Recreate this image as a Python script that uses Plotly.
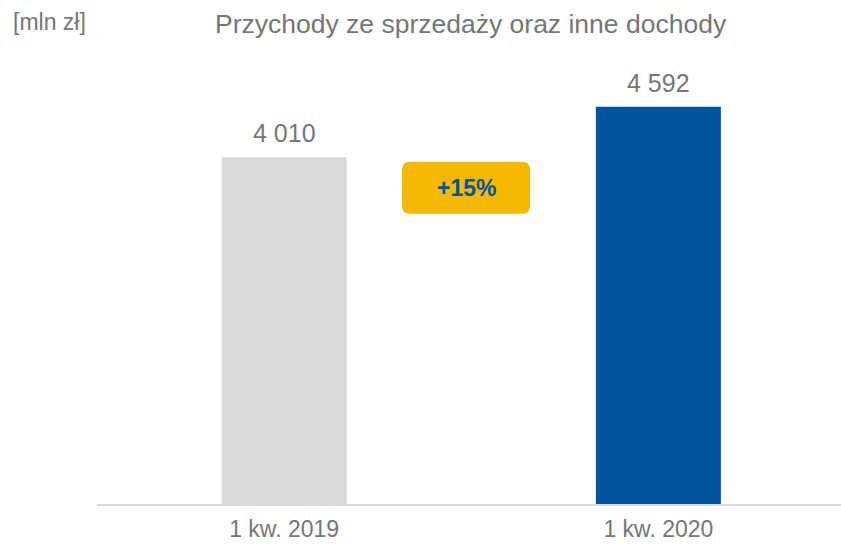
import plotly.graph_objects as go

categories = ["1 kw. 2019", "1 kw. 2020"]
values = [4010, 4592]
bar_colors = ["#D9D9D9", "#00539F"]
change_label = "+15%"
title_text = "Przychody ze sprzedaży oraz inne dochody"
unit_text = "[mln zł]"

FONT = "Arial, Liberation Sans, sans-serif"
TXT = "#767676"

fig = go.Figure()
fig.add_trace(go.Bar(
    x=categories, y=values, marker=dict(color=bar_colors, line=dict(width=0)),
    width=0.334, hoverinfo="skip",
))

for c, v in zip(categories, values):
    fig.add_annotation(x=c, y=v, xref="x", yref="y", text=f"{v:,}".replace(",", " "),
                       showarrow=False, yanchor="bottom", yshift=8,
                       font=dict(family=FONT, size=25, color=TXT))

# badge
r = 8; w = 64; h = 26
path = (f"M {-w+r},{-h} L {w-r},{-h} Q {w},{-h} {w},{-h+r} L {w},{h-r} Q {w},{h} {w-r},{h} "
        f"L {-w+r},{h} Q {-w},{h} {-w},{h-r} L {-w},{-h+r} Q {-w},{-h} {-w+r},{-h} Z")
fig.add_shape(type="path", xref="paper", yref="paper", xsizemode="pixel", ysizemode="pixel",
              xanchor=0.496, yanchor=0.712, path=path,
              fillcolor="#F5B800", line=dict(width=0), layer="above")
fig.add_annotation(xref="paper", yref="paper", x=0.496, y=0.712, text=f"<b>{change_label}</b>",
                   showarrow=False, xanchor="center", yanchor="middle",
                   font=dict(family=FONT, size=23, color="#00539F"))

fig.add_annotation(xref="paper", yref="paper", x=(471 - 97) / 744, y=(504 - 24) / 444,
                   text=title_text, showarrow=False, xanchor="center", yanchor="middle",
                   font=dict(family=FONT, size=26.5, color=TXT))
fig.add_annotation(xref="paper", yref="paper", x=(11 - 97) / 744, y=(504 - 22) / 444,
                   text=unit_text, showarrow=False, xanchor="left", yanchor="middle",
                   font=dict(family=FONT, size=23, color=TXT))

fig.update_layout(
    width=841, height=544,
    margin=dict(l=97, r=0, t=60, b=40),
    plot_bgcolor="white", paper_bgcolor="white",
    showlegend=False,
    xaxis=dict(range=[-0.5, 1.488], showline=True, linecolor="#D9D9D9", linewidth=2,
               showgrid=False, zeroline=False, ticks="", ticklabelstandoff=3,
               tickfont=dict(family=FONT, size=23, color=TXT)),
    yaxis=dict(range=[0, 5133], visible=False, showgrid=False, zeroline=False),
)

fig.write_html("out.html", config={"displayModeBar": False},
               post_script="document.body.style.margin='0';")
